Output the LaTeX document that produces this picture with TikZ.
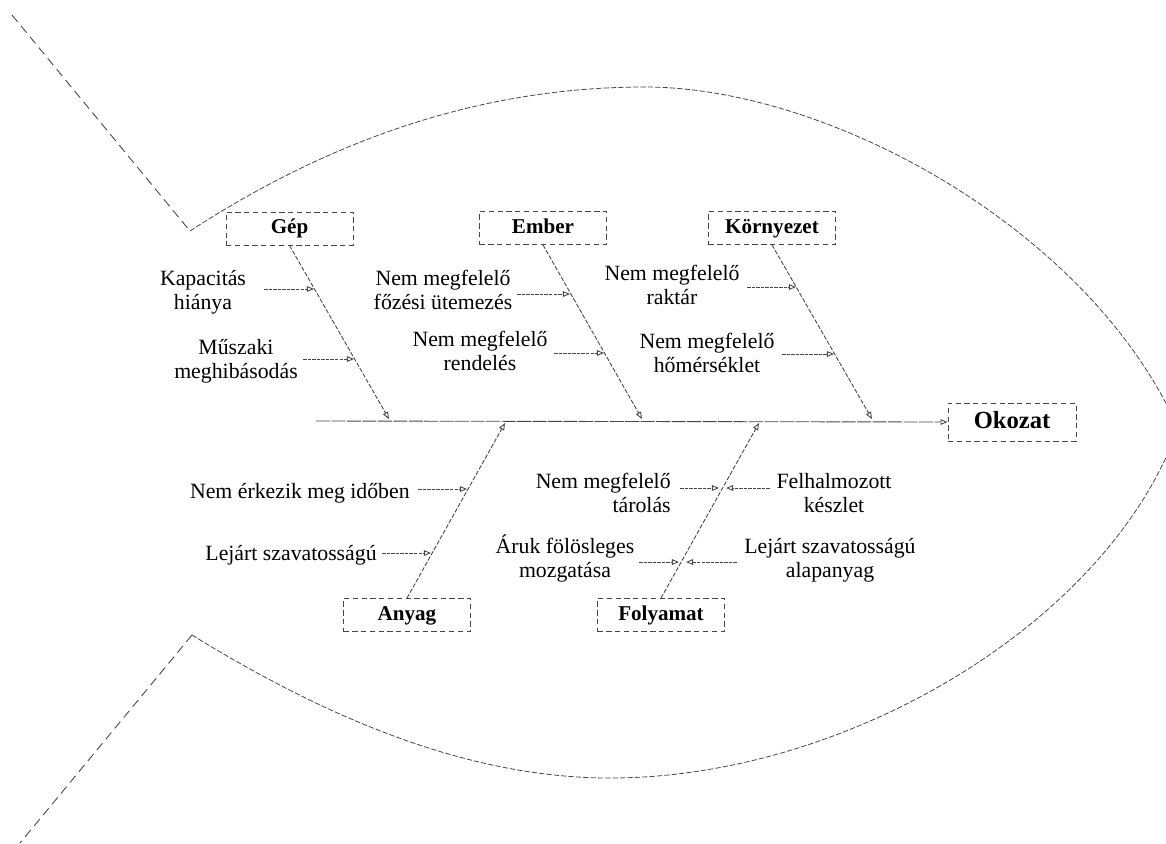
\documentclass[tikz,border=0pt]{standalone}
\usepackage{fontspec}
\setmainfont{Liberation Serif}
\usetikzlibrary{arrows.meta,calc}
\definecolor{linegray}{RGB}{70,70,70}
\begin{document}
\begin{tikzpicture}[x=0.02cm,y=-0.02cm,
  outline/.style={draw=linegray, line width=0.45pt, dash pattern=on 3pt off 1.2pt},
  tailline/.style={draw=linegray, line width=0.5pt, dash pattern=on 5pt off 3pt},
  catbox/.style={draw=linegray, line width=0.5pt, densely dashed, minimum width=2.54cm,
    minimum height=0.66cm, inner sep=0pt, text height=8.5pt, text depth=2.5pt,
    font=\fontsize{12}{14}\selectfont\bfseries},
  effectbox/.style={catbox, minimum width=2.56cm, minimum height=0.76cm,
    text height=10pt, text depth=3pt, font=\fontsize{14}{16}\selectfont\bfseries},
  tip/.style={-{Triangle[open,length=4pt,width=3.2pt]}},
  bone/.style={draw=linegray, line width=0.5pt, dash pattern=on 2.5pt off 1pt, tip},
  spine/.style={draw=linegray, line width=0.5pt, dash pattern=on 8pt off 0.8pt, tip},
  sub/.style={draw=linegray, line width=0.5pt, dash pattern=on 2pt off 0.6pt, tip},
  causetext/.style={align=center, inner sep=0pt, font=\fontsize{12.4}{13.2}\selectfont},
]
\useasboundingbox (0,0) rectangle (1166,843);

% fish outline: tail and body
\begin{scope}
\clip (0,0) rectangle (1166,843);
\draw[tailline] (12,15) -- (190,231);
\draw[tailline] (192,635) -- (20,843);
\draw[outline] (190,231) .. controls (330,140) and (480,87) .. (645,87)
  .. controls (830,87) and (1090,230) .. (1178,428);
\draw[outline] (192,635) .. controls (330,720) and (470,778) .. (610,778)
  .. controls (850,778) and (1110,620) .. (1178,428);
\end{scope}

% effect and spine
\node[effectbox] (Okozat) at (1012,422) {Okozat};
\coordinate (spineStart) at (316,421);
\draw[spine] (spineStart) -- (Okozat.west);

% category boxes
\node[catbox] (Gep) at (289.5,228.5) {Gép};
\node[catbox] (Ember) at (543,228) {Ember};
\node[catbox] (Kornyezet) at (772,228) {Környezet};
\node[catbox] (Anyag) at (407,615) {Anyag};
\node[catbox] (Folyamat) at (661,615) {Folyamat};

% where the bones meet the spine
\coordinate (gTip) at (389,419);
\coordinate (eTip) at (642,419);
\coordinate (kTip) at (872,419);
\coordinate (aTip) at (505,423);
\coordinate (fTip) at (759,423);

\draw[bone] (Gep.south) -- (gTip);
\draw[bone] (Ember.south) -- (eTip);
\draw[bone] (Kornyezet.south) -- (kTip);
\draw[bone] (Anyag.north) -- (aTip);
\draw[bone] (Folyamat.north) -- (fTip);

% causes: Gép (base anchor sits on the last line)
\node[causetext, anchor=base] (kap) at (203,309) {Kapacitás\\hiánya};
\node[causetext, anchor=base] (mus) at (236,378) {Műszaki\\meghibásodás};
\coordinate (g1s) at (264,289); \coordinate (g1) at (314,289);
\coordinate (g2s) at (303,359); \coordinate (g2) at (354,359);
\draw[sub] (g1s) -- (g1);
\draw[sub] (g2s) -- (g2);

% causes: Ember
\node[causetext, anchor=base] (fozes) at (443,309) {Nem megfelelő\\főzési ütemezés};
\node[causetext, anchor=base] (rend) at (480,370) {Nem megfelelő\\rendelés};
\coordinate (e1s) at (517,294); \coordinate (e1) at (570,294);
\coordinate (e2s) at (554,353); \coordinate (e2) at (604,353);
\draw[sub] (e1s) -- (e1);
\draw[sub] (e2s) -- (e2);

% causes: Környezet
\node[causetext, anchor=base] (raktar) at (672,304) {Nem megfelelő\\raktár};
\node[causetext, anchor=base] (homer) at (707,372) {Nem megfelelő\\hőmérséklet};
\coordinate (k1s) at (747,287); \coordinate (k1) at (796,287);
\coordinate (k2s) at (782,354); \coordinate (k2) at (834,354);
\draw[sub] (k1s) -- (k1);
\draw[sub] (k2s) -- (k2);

% causes: Anyag
\node[causetext, anchor=base east] (erkez) at (410,498) {Nem érkezik meg időben};
\node[causetext, anchor=base east] (lejart) at (377,560) {Lejárt szavatosságú};
\coordinate (a1s) at (418,489); \coordinate (a1) at (467,489);
\coordinate (a2s) at (382,553); \coordinate (a2) at (431,553);
\draw[sub] (a1s) -- (a1);
\draw[sub] (a2s) -- (a2);

% causes: Folyamat
\node[causetext, align=right, anchor=base east] (tarol) at (671,512) {Nem megfelelő\\tárolás};
\node[causetext, anchor=base] (felh) at (834,512) {Felhalmozott\\készlet};
\node[causetext, anchor=base] (aruk) at (565,577) {Áruk fölösleges\\mozgatása};
\node[causetext, anchor=base] (alap) at (830,577) {Lejárt szavatosságú\\alapanyag};
\coordinate (f1s) at (680,488); \coordinate (f1) at (719,488);
\coordinate (f2s) at (770,488); \coordinate (f2) at (726,488);
\coordinate (f3s) at (639,562); \coordinate (f3) at (679,562);
\coordinate (f4s) at (737,562); \coordinate (f4) at (686,562);
\draw[sub] (f1s) -- (f1);
\draw[sub] (f2s) -- (f2);
\draw[sub] (f3s) -- (f3);
\draw[sub] (f4s) -- (f4);
\end{tikzpicture}
\end{document}
